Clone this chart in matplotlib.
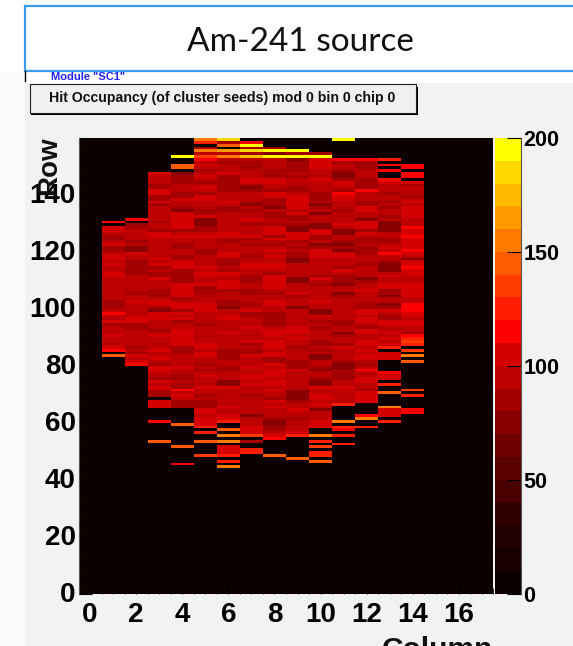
import numpy as np
import matplotlib
matplotlib.use("Agg")
import matplotlib.pyplot as plt
from matplotlib.colors import ListedColormap, BoundaryNorm
from matplotlib.patches import Rectangle
from matplotlib.ticker import MultipleLocator
from matplotlib.transforms import ScaledTranslation

# Occupancy per column, listed from the top row of that column downwards
col_01 = [115,0,105,100,95,85,85,90,105,85,
          85,95,100,100,97,105,95,92,100,100,
          90,92,96,95,95,92,90,90,80,85,
          85,90,110,96,95,105,85,90,95,92,
          105,95,94,95,100,110,0,140]
col_02 = [118,0,85,88,92,92,95,90,80,90,
          72,78,105,92,90,88,88,88,88,85,
          95,92,90,90,90,90,82,92,95,100,
          96,95,90,90,92,100,105,85,85,95,
          96,95,94,96,95,85,95,80,100,98,
          100,115]
col_03 = [105,95,92,90,88,88,108,100,88,85,
          100,88,90,95,95,92,95,80,90,90,
          88,105,100,95,92,90,
          95,95,90,90,105,90,108,88,92,85,
          85,108,97,95,95,85,85,88,90,100,
          100,85,75,108,108,108,90,90,92,88,
          92,108,92,92,92,95,100,92,90,108,
          90,88,108,105,95,90,80,100,98,108,
          90,88,85,0,108,108,108,0,0,0,0,118,
          0,0,0,0,0,0,140]
col_04 = [195,0,0,145,145,0,
          72,80,80,88,90,92,90,88,85,105,
          92,90,88,78,108,105,105,108,108,105,
          85,98,100,95,90,85,
          85,95,90,88,85,105,105,105,88,88,
          85,85,85,108,108,105,103,100,88,90,
          108,105,85,100,96,105,85,90,92,100,
          105,105,105,108,
          108,82,80,85,95,92,95,90,100,95,
          92,85,85,90,80,85,115,90,100,92,
          88,88,88,
          0,0,0,0,0,140,0,0,0,0,0,0,0,140,0,0,0,0,0,118]
col_05 = [155,120,0,85,150,90,135,
          118,95,100,90,88,90,100,95,80,95,
          100,92,80,108,100,95,95,98,85,85,
          108,75,78,75,80,88,92,100,90,95,
          95,95,85,80,90,95,95,95,100,95,
          108,105,95,95,100,85,88,85,90,92,
          90,108,108,108,95,95,90,90,80,90,
          90,95,92,95,95,
          100,100,95,100,100,95,92,88,95,88,
          90,100,95,90,92,100,96,90,88,90,
          85,85,85,100,100,98,105,105,105,
          125,0,125,0,0,145,0,0,0,0,130]
col_06 = [180,85,145,0,165,90,155,
          95,88,92,92,90,100,88,80,85,80,
          85,80,95,92,90,105,95,82,80,95,
          92,95,92,95,92,95,100,100,80,85,
          95,92,90,105,108,85,80,85,95,85,
          108,95,92,100,105,100,88,90,95,92,
          88,85,78,95,92,100,108,95,92,92,
          92,105,95,95,90,
          95,95,80,85,88,80,95,92,80,85,
          92,95,95,78,78,100,90,95,95,92,
          95,92,100,95,92,100,100,120,
          0,0,145,0,150,0,150,0,105,105,108,125,0,125,0,150]
col_07 = [118,190,85,185,88,170,
          95,88,88,85,92,92,90,105,100,80,
          78,85,92,90,90,85,78,92,85,92,
          95,100,92,85,95,92,90,100,88,90,
          80,95,95,90,88,92,90,108,108,90,
          95,85,85,88,92,95,80,80,95,92,
          90,88,92,108,80,85,95,92,95,108,
          92,90,95,95,100,
          88,92,85,85,108,95,92,92,100,98,
          92,100,100,95,100,92,90,90,88,90,
          95,92,90,92,90,78,92,90,95,100,
          100,100,135,0,85,0,0,125,125]
col_08 = [80,190,75,190,
          92,95,95,95,85,80,85,105,100,92,
          95,85,108,108,80,82,85,75,90,85,
          82,90,92,85,105,100,100,80,105,95,
          85,95,100,98,100,95,92,108,105,92,
          88,105,108,100,102,108,95,88,90,92,
          100,100,92,95,88,85,85,88,88,92,
          105,100,100,98,100,
          105,100,95,100,105,85,80,108,95,100,
          105,100,95,108,100,90,100,90,92,88,
          108,90,100,95,92,90,88,78,75,85,
          85,92,108,118,0,0,0,0,0,140]
col_09 = [195,85,195,
          72,88,85,88,85,90,80,95,92,90,
          85,88,92,105,100,102,100,105,92,108,
          80,82,90,88,72,78,108,100,108,88,
          90,85,92,80,80,78,78,95,95,95,
          92,95,78,75,95,92,95,100,82,95,
          92,90,72,95,90,90,95,92,90,105,
          108,100,95,100,98,
          90,85,95,92,98,92,88,85,88,100,
          92,90,98,95,92,90,80,78,75,78,
          80,90,92,108,95,92,88,90,92,95,
          95,100,120,0,0,0,0,0,0,0,145]
col_10 = [80,195,
          108,108,108,105,98,95,92,100,92,95,
          92,90,88,85,80,90,72,80,92,78,
          95,92,90,75,75,108,108,85,88,90,
          78,80,105,100,108,95,90,92,92,92,
          90,88,105,98,80,95,92,90,95,90,
          108,95,92,75,78,105,95,88,90,88,
          90,92,95,92,88,
          88,90,85,92,72,75,90,92,88,78,
          95,92,88,72,78,100,95,92,105,100,
          98,100,95,75,95,92,90,108,105,105,
          0,0,150,0,125,0,135,0,120,120,0,145]
col_11 = [195,0,0,0,0,0,0,118,
          85,92,90,80,75,75,80,105,105,90,
          88,115,100,100,98,92,95,88,92,95,
          92,90,100,92,72,75,92,90,88,75,
          85,75,100,105,92,90,92,88,105,95,
          80,80,85,72,92,95,72,85,90,95,
          95,95,95,95,95,95,85,88,92,90,
          78,85,95,92,
          85,100,92,95,95,92,88,75,72,85,
          85,88,80,92,95,100,95,92,90,95,
          92,120,0,0,0,0,0,150,0,122,118,0,128,0,0,128]
col_12 = [118,
          85,85,88,92,92,90,85,85,80,85,
          115,92,95,90,80,85,105,100,95,90,
          72,108,108,108,88,108,90,88,88,92,
          85,80,80,92,90,92,88,92,90,92,
          92,72,80,90,92,105,98,95,92,95,
          82,85,105,100,90,108,108,95,88,100,
          100,95,98,100,
          100,95,105,90,105,102,92,85,90,115,
          95,92,105,100,98,90,88,108,100,105,
          108,0,0,0,0,115,150,0,0,125]
col_13 = [120,0,112,0,112,0,0,110,
          100,95,90,92,85,95,92,88,90,85,
          90,92,88,90,72,78,72,75,90,92,
          85,88,92,
          100,95,118,92,90,88,75,78,72,92,
          100,95,92,102,100,85,88,75,92,90,
          75,85,100,95,85,80,108,100,92,95,
          105,95,100,95,
          105,120,0,108,108,105,0,0,0,0,
          110,108,108,0,125,0,0,145,0,0,
          0,0,150,100,100,105,0,125]
col_14 = [115,115,0,115,115,0,
          108,85,92,95,92,85,92,108,95,105,
          102,100,100,95,92,90,112,108,105,110,
          105,100,102,
          105,115,108,90,75,100,105,112,105,100,
          90,92,95,100,102,100,105,100,95,90,
          115,112,110,100,102,95,105,100,95,92,
          80,118,122,135,
          125,0,130,0,150,0,140,
          0,0,0,0,0,0,0,0,0,135,0,125,0,0,0,0,115,115]

columns = [1,2,3,4,5,6,7,8,9,10,11,12,13,14]
top_rows = [130,131,147,153,159,159,158,156,155,154,159,152,152,150]
col_values = [col_01,col_02,col_03,col_04,col_05,col_06,col_07,
              col_08,col_09,col_10,col_11,col_12,col_13,col_14]

level_colors = ["#0c0000","#180000","#220000","#300000","#480000",
                "#5a0000","#700000","#860000","#a40000","#bc0000",
                "#d40000","#ff0000","#ff1e00","#ff3c00","#ff5c00",
                "#ff7a00","#ff9a00","#ffbb00","#ffd800","#ffff00"]
bar_ticks = [0,50,100,150,200]
x_ticks = [0,2,4,6,8,10,12,14,16]
y_ticks = [0,20,40,60,80,100,120,140]

W, H = 573, 646


def fx(px):
    return px / W


def fy(py):
    return 1 - py / H


def add_box(x0, y0, x1, y1, **kw):
    fig.add_artist(Rectangle((fx(x0), fy(y1)), (x1-x0)/W, (y1-y0)/H,
                             transform=fig.transFigure, zorder=-5, **kw))


# Fill the grid
grid = np.zeros((160, 18))
for c, top, vals in zip(columns, top_rows, col_values):
    for i, v in enumerate(vals):
        grid[top-i, c] = v

cmap = ListedColormap(level_colors)
norm = BoundaryNorm(np.arange(0, 201, 10), cmap.N)

plt.rcParams["font.family"] = ["Liberation Sans", "DejaVu Sans"]
plt.rcParams["font.weight"] = "bold"

fig = plt.figure(figsize=(W/100, H/100), dpi=100, facecolor="white")

# Slide background
add_box(0, 72, 25, 646, facecolor="#fafafa", edgecolor="none")
add_box(25, 83, 573, 646, facecolor="#f2f2f2", edgecolor="none")

# Slide title
add_box(24.5, 6, 580, 71, facecolor="white", edgecolor="#3c9aee", linewidth=1.6)
fig.text(fx(300), fy(42), "Am-241 source", fontsize=24, family="Lato",
         weight="normal", ha="center", va="center", color="#111111")

fig.add_artist(plt.Line2D([fx(24.5), fx(24.5)], [fy(71), fy(81)], color="black", linewidth=1))
fig.text(fx(51), fy(76.5), 'Module "SC1"', fontsize=8, color="#2222ee",
         ha="left", va="center")

# Title box with its shadow
add_box(31, 87, 418, 115, facecolor="black", edgecolor="none")
add_box(29.5, 84.5, 416, 112.5, facecolor="#f0f0f0", edgecolor="#222222", linewidth=0.8)
fig.text(fx(222), fy(98), "Hit Occupancy (of cluster seeds) mod 0 bin 0 chip 0",
         fontsize=10.2, ha="center", va="center", color="#111111")

# Main map
ax = fig.add_axes([fx(78.6), fy(593.5), (493.4-78.6)/W, (593.5-138)/H])
x_edges = np.arange(19) - 0.5
y_edges = np.arange(161)
mesh = ax.pcolormesh(x_edges, y_edges, grid, cmap=cmap, norm=norm)
ax.set_xlim(-0.5, 17.5)
ax.set_ylim(0, 160)
ax.set_xticks(x_ticks)
ax.set_yticks(y_ticks)
ax.xaxis.set_minor_locator(MultipleLocator(0.5))
ax.yaxis.set_minor_locator(MultipleLocator(5))
ax.tick_params(which="major", direction="in", length=9, width=0.8, color="black",
               labelsize=20, pad=6)
ax.tick_params(which="minor", direction="in", length=4.5, width=0.6, color="black")
ax.tick_params(axis="y", pad=2)
for s in ["top", "right", "bottom"]:
    ax.spines[s].set_visible(False)
ax.spines["left"].set_color("#555555")
ax.spines["left"].set_linewidth(0.8)

# y labels sit a little above their ticks in the original
up_2px = ScaledTranslation(0, 2/100, fig.dpi_scale_trans)
for lab in ax.get_yticklabels():
    lab.set_transform(lab.get_transform() + up_2px)

fig.text(fx(493), fy(650), "Column", fontsize=21.5, ha="right", va="center",
         color="#111111")
fig.text(fx(49), fy(136), "Row", fontsize=20, rotation=90, ha="center", va="top",
         color="#111111")

# Colour scale
cax = fig.add_axes([fx(495.2), fy(593.5), (521.2-495.2)/W, (593.5-138)/H])
cbar = fig.colorbar(mesh, cax=cax, ticks=bar_ticks, spacing="proportional")
cbar.outline.set_visible(False)
cbar.ax.tick_params(direction="in", length=10, width=0.8, color="black",
                    labelsize=15.5, pad=1.5)
cbar.ax.minorticks_off()
fig.add_artist(plt.Line2D([fx(521.2), fx(521.2)], [fy(138), fy(593.5)],
                          color="#555555", linewidth=0.8))

fig.savefig("out.png", dpi=100, facecolor=fig.get_facecolor())
